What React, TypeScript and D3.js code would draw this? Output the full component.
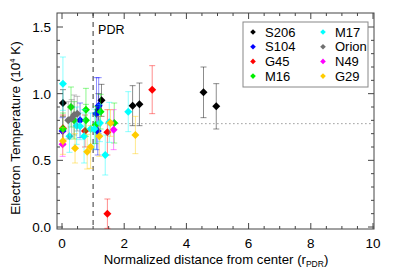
import React from 'react'
import * as d3 from 'd3'

// each point: [distance, Te (1e4 K), error]
const s206 = [[0.03, 0.93, 0.1], [1.17, 0.88, 0.12], [1.27, 0.95, 0.12], [2.27, 0.91, 0.15], [2.49, 0.92, 0.16], [4.55, 1.01, 0.19], [4.96, 0.905, 0.17]]
const s104 = [[0.02, 0.72, 0.1], [0.58, 0.8, 0.13], [1.11, 0.85, 0.27], [1.18, 0.91, 0.21], [1.15, 0.72, 0.18]]
const g45 = [[0.03, 0.74, 0.1], [0.74, 0.72, 0.12], [1.46, 0.71, 0.17], [1.46, 0.1, 0.11], [2.9, 1.03, 0.18]]
const m16 = [[0.03, 0.735, 0.12], [0.29, 0.9, 0.15], [0.39, 0.8, 0.14], [0.77, 0.88, 0.16], [0.77, 0.8, 0.12], [1.08, 0.765, 0.14], [1.24, 0.865, 0.13], [1.68, 0.78, 0.15]]
const m17 = [[0.03, 1.075, 0.2], [0.24, 0.68, 0.12], [0.47, 0.76, 0.14], [0.58, 0.755, 0.1], [0.71, 0.68, 0.2], [0.92, 0.735, 0.12], [1.04, 0.735, 0.15], [1.22, 0.78, 0.14], [1.39, 0.54, 0.15], [1.52, 0.785, 0.15], [2.13, 0.865, 0.15]]
const orion = [[0.2, 0.8, 0.14], [0.31, 0.815, 0.14], [0.39, 0.84, 0.15], [0.49, 0.85, 0.13]]
const n49 = [[0.02, 0.62, 0.09], [1.66, 0.73, 0.15]]
const g29 = [[0.03, 0.645, 0.1], [0.42, 0.59, 0.11], [0.81, 0.565, 0.13], [0.92, 0.6, 0.16], [1.2, 0.68, 0.15], [1.56, 0.78, 0.1], [2.36, 0.69, 0.14]]

const seriesNames = ['S206', 'S104', 'G45', 'M16', 'M17', 'Orion', 'N49', 'G29']
const seriesColors = ['#000000', '#0000ff', '#ff0000', '#00ee00', '#00ffff', '#707070', '#ff00ff', '#ffcc00']
const seriesData = [s206, s104, g45, m16, m17, orion, n49, g29]

const xTicks = [0, 2, 4, 6, 8, 10]
const yTicks = [0, 0.5, 1.0, 1.5]
const pdrRadius = 1
const meanTe = 0.775

const font = '"Liberation Sans", Arial, sans-serif'

const diamond = (cx: number, cy: number, r: number) =>
  `M${cx},${cy - r}L${cx + r},${cy}L${cx},${cy + r}L${cx - r},${cy}Z`

export default function App() {
  const left = 57, right = 374, top = 13, bottom = 229
  const x = d3.scaleLinear().domain([0, 10]).range([62, 373])
  const y = d3.scaleLinear().domain([0, 1.5]).range([227, 27])

  const xMinor = d3.range(0, 10.01, 0.5)
  const yMinor = d3.range(0, 1.55, 0.1)
  const axisColor = '#444'

  return (
    <svg width={407} height={271} style={{ position: 'absolute', left: 0, top: 0, background: '#fff' }} fontFamily={font}>
      {/* frame */}
      <rect x={left} y={top} width={right - left} height={bottom - top} fill="none" stroke={axisColor} strokeWidth={1} />

      {/* ticks on all four sides */}
      {xMinor.map(v => {
        const major = xTicks.some(t => Math.abs(t - v) < 1e-6)
        const len = major ? 6 : 3
        return (
          <g key={'xt' + v}>
            <line x1={x(v)} x2={x(v)} y1={bottom} y2={bottom - len} stroke={axisColor} />
            <line x1={x(v)} x2={x(v)} y1={top} y2={top + len} stroke={axisColor} />
          </g>
        )
      })}
      {yMinor.map(v => {
        const major = yTicks.some(t => Math.abs(t - v) < 1e-6)
        const len = major ? 6 : 3
        return (
          <g key={'yt' + v}>
            <line x1={left} x2={left + len} y1={y(v)} y2={y(v)} stroke={axisColor} />
            <line x1={right} x2={right - len} y1={y(v)} y2={y(v)} stroke={axisColor} />
          </g>
        )
      })}
      {xTicks.map(t => (
        <text key={'xl' + t} x={x(t)} y={248} textAnchor="middle" fontSize={13.5}>{t}</text>
      ))}
      {yTicks.map(t => (
        <text key={'yl' + t} x={51} y={y(t) + 5} textAnchor="end" fontSize={13.5}>{t.toFixed(1)}</text>
      ))}

      {/* axis titles */}
      <text x={216} y={264} textAnchor="middle" fontSize={13.2}>
        Normalized distance from center (r<tspan fontSize={8.5} dy={3}>PDR</tspan><tspan dy={-3}>)</tspan>
      </text>
      <text transform="translate(20,128) rotate(-90)" textAnchor="middle" fontSize={13.5}>
        Electron Temperature (10<tspan fontSize={7.5} dy={-5}>4</tspan><tspan dy={5}> K)</tspan>
      </text>

      {/* reference lines */}
      <line x1={x(pdrRadius)} x2={x(pdrRadius)} y1={top} y2={bottom} stroke="#333" strokeDasharray="5,4" />
      <text x={x(pdrRadius) + 5} y={34} fontSize={12.5}>PDR</text>
      <line x1={x(pdrRadius)} x2={right} y1={y(meanTe)} y2={y(meanTe)} stroke="#999" strokeDasharray="1.5,2.5" />

      {/* data */}
      {seriesData.map((pts, si) => (
        <g key={seriesNames[si]}>
          {pts.map((p, i) => {
            const cx = x(p[0])
            const y0 = y(p[1] - p[2]), y1 = y(p[1] + p[2])
            return (
              <g key={i} stroke={seriesColors[si]} strokeOpacity={0.45}>
                <line x1={cx} x2={cx} y1={y0} y2={y1} />
                <line x1={cx - 3} x2={cx + 3} y1={y0} y2={y0} />
                <line x1={cx - 3} x2={cx + 3} y1={y1} y2={y1} />
              </g>
            )
          })}
          {pts.map((p, i) => (
            <path key={'m' + i} d={diamond(x(p[0]), y(p[1]), 4)} fill={seriesColors[si]} />
          ))}
        </g>
      ))}

      {/* legend */}
      <rect x={243} y={22} width={125} height={65} fill="#fff" stroke="#888" />
      {seriesNames.map((name, i) => {
        const col = Math.floor(i / 4), row = i % 4
        const mx = col === 0 ? 253 : 323
        const my = 32 + row * 14.7
        return (
          <g key={'lg' + name}>
            <path d={diamond(mx, my, 2.8)} fill={seriesColors[i]} />
            <text x={mx + 12} y={my + 4.5} fontSize={13}>{name}</text>
          </g>
        )
      })}
    </svg>
  )
}
